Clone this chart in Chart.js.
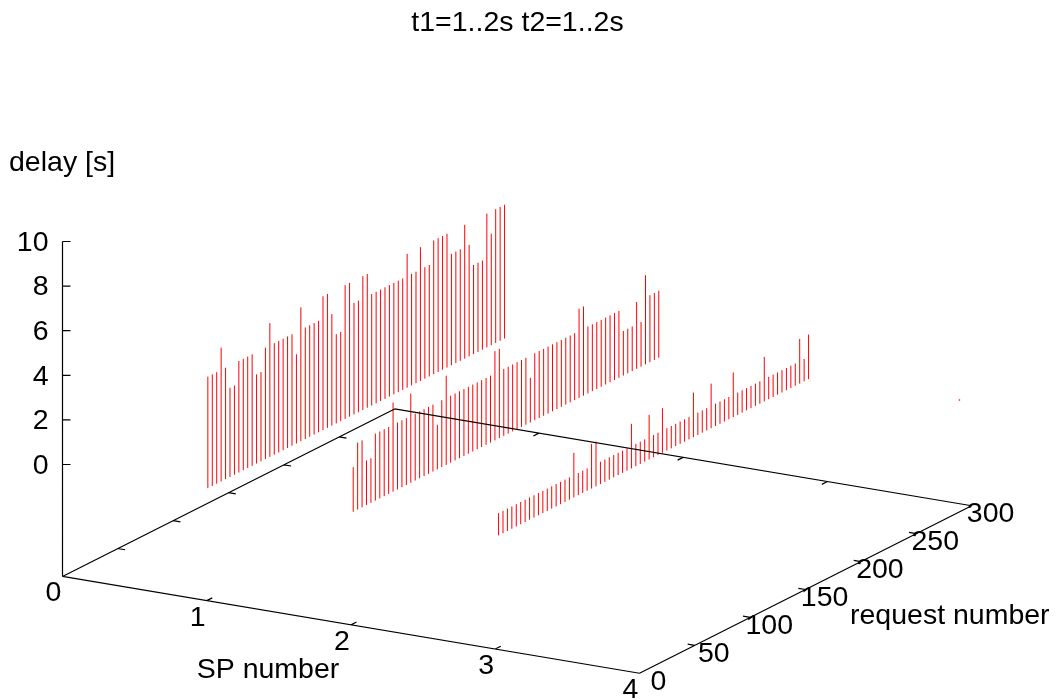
<!DOCTYPE html>
<html>
<head>
<meta charset="utf-8">
<title>t1=1..2s t2=1..2s</title>
<script src="https://cdn.jsdelivr.net/npm/chart.js@4"></script>
<style>
  html, body { margin: 0; padding: 0; background: #fff; }
  canvas { display: block; }
</style>
</head>
<body>
<canvas id="myChart" width="1058" height="700"></canvas>
<script>
// request numbers for each service point
const requests1 = [1,5,9,13,17,21,25,29,33,37,41,45,49,53,57,61,65,69,73,77,81,85,89,93,97,101,105,109,113,117,121,125,129,133,137,141,145,149,153,157,161,165,169,173,177,181,185,189,193,197,201,205,209,213,217,221,225,229,233,237,241,245,249,253,257,261,265,269];
const requests2 = [2,6,10,14,18,22,26,30,34,38,42,46,50,54,58,62,66,70,74,78,82,86,90,94,98,102,106,110,114,118,122,126,130,134,138,142,146,150,154,158,162,166,170,174,178,182,186,190,194,198,202,206,210,214,218,222,226,230,234,238,242,246,250,254,258,262,266,270,274,278];
const requests3 = [3,7,11,15,19,23,27,31,35,39,43,47,51,55,59,63,67,71,75,79,83,87,91,95,99,103,107,111,115,119,123,127,131,135,139,143,147,151,155,159,163,167,171,175,179,183,187,191,195,199,203,207,211,215,219,223,227,231,235,239,243,247,251,255,259,263,267,271,275,279,283];
const requests4 = [289];

// delay in seconds
const delays1 = [5,5,5,6,5,4,4,5,5,5,5,4,4,5,6,5,5,5,5,5,4,6,5,5,5,5,6,6,5,4,4,6,6,5,5,6,6,5,5,5,5,5,5,5,5,6,5,5,6,5,5,6,6,6,6,5,5,5,6,5,4,4,4,6,5,6,6,6];
const delays2 = [2,3,3,2,2,3,3,3,3,4,3,3,3,4,3,3,3,3,3,2,3,4,3,3,3,3,3,3,3,3,3,3,4,4,3,3,3,3,3,3,2,3,3,3,3,3,3,3,3,3,3,4,4,3,3,3,3,3,3,3,3,2,2,2,3,2,4,3,3,3];
const delays3 = [1,1,1,1,1,1,1,1,1,1,1,1,1,1,1,1,1,2,1,1,1,2,2,1,1,1,1,1,1,1,2,1,1,1,2,1,1,2,1,1,1,1,1,1,2,1,1,1,2,1,1,1,1,2,1,1,1,1,1,1,2,1,1,1,1,1,1,1,2,1,2];
const delays4 = [0];

const spNumbers = [1, 2, 3, 4];
const spTicks = [0, 1, 2, 3, 4];
const requestTicks = [0, 50, 100, 150, 200, 250, 300];
const delayTicks = [0, 2, 4, 6, 8, 10];

const SP_MAX = 4;
const REQ_MAX = 300;
const Z_FLOOR = -5.02;

// same view as the gnuplot splot: linear map from data to the picture
function project(sp, req, z) {
  return {
    x: 62.5 + sp * 144.25 + req * 1.1071,
    y: 464.5 + z * -22.3 + sp * 24.2 + req * -0.5583,
  };
}

function impulses(sp, reqs, delays) {
  const pts = [];
  reqs.forEach((r, i) => {
    pts.push(project(sp, r, 0));
    pts.push(project(sp, r, delays[i]));
    pts.push({ x: NaN, y: NaN });
  });
  return pts;
}

function axisLines() {
  const pts = [];
  const seg = (a, b) => { pts.push(a, b, { x: NaN, y: NaN }); };
  seg(project(0, 0, Z_FLOOR), project(SP_MAX, 0, Z_FLOOR));
  seg(project(SP_MAX, 0, Z_FLOOR), project(SP_MAX, REQ_MAX, Z_FLOOR));
  seg(project(SP_MAX, REQ_MAX, Z_FLOOR), project(0, REQ_MAX, Z_FLOOR));
  seg(project(0, REQ_MAX, Z_FLOOR), project(0, 0, Z_FLOOR));
  seg(project(0, 0, Z_FLOOR), project(0, 0, 10));
  delayTicks.forEach((z) => {
    const a = project(0, 0, z);
    seg(a, { x: a.x + 8, y: a.y });
  });
  spTicks.slice(1, -1).forEach((s) => {
    seg(project(s, 0, Z_FLOOR), project(s, 5, Z_FLOOR));
    seg(project(s, REQ_MAX, Z_FLOOR), project(s, REQ_MAX - 5, Z_FLOOR));
  });
  requestTicks.slice(1, -1).forEach((r) => {
    seg(project(0, r, Z_FLOOR), project(0.05, r, Z_FLOOR));
    seg(project(SP_MAX, r, Z_FLOOR), project(SP_MAX - 0.05, r, Z_FLOOR));
  });
  return pts;
}

const textPlugin = {
  id: "gnuplotText",
  afterDraw(chart) {
    const c = chart.ctx;
    const sx = chart.scales.x;
    const sy = chart.scales.y;
    const put = (s, x, y, align) => {
      c.textAlign = align;
      c.fillText(s, sx.getPixelForValue(x), sy.getPixelForValue(y));
    };
    c.save();
    c.fillStyle = "#000";
    c.font = "28.5px 'Liberation Sans'";
    c.textBaseline = "middle";
    put("t1=1..2s t2=1..2s", 517.5, 23.5, "center");
    put("delay [s]", 9, 163, "left");
    put("SP number", 268, 670.5, "center");
    put("request number", 850, 616.5, "left");
    delayTicks.forEach((z) => {
      const p = project(0, 0, z);
      put(String(z), p.x - 14, p.y + 1.5, "right");
    });
    spTicks.forEach((s) => {
      const p = project(s, 0, Z_FLOOR);
      put(String(s), p.x - 9, p.y + 17, "center");
    });
    requestTicks.forEach((r) => {
      const p = project(SP_MAX, r, Z_FLOOR);
      put(String(r), p.x + 19, p.y + 8.5, "center");
    });
    c.restore();
  },
};

const seriesColor = "#ff0000";
const datasets = [
  { data: axisLines(), borderColor: "#000", borderWidth: 1.2 },
  { data: impulses(spNumbers[0], requests1, delays1), borderColor: seriesColor, borderWidth: 1 },
  { data: impulses(spNumbers[1], requests2, delays2), borderColor: seriesColor, borderWidth: 1 },
  { data: impulses(spNumbers[2], requests3, delays3), borderColor: seriesColor, borderWidth: 1 },
];

const ctx = document.getElementById("myChart").getContext("2d");
const myChart = new Chart(ctx, {
  type: "scatter",
  data: {
    datasets: [
      ...datasets.map((d) => ({ ...d, showLine: true, pointRadius: 0, tension: 0, spanGaps: false })),
      // lone zero-height impulse near the far corner
      {
        data: impulses(spNumbers[3], requests4, delays4).slice(0, 1),
        showLine: false,
        borderWidth: 0,
        pointRadius: 0.8,
        pointBorderWidth: 0,
        pointBackgroundColor: seriesColor,
      },
    ],
  },
  options: {
    responsive: false,
    animation: false,
    layout: { padding: 0, autoPadding: false },
    plugins: { legend: { display: false }, tooltip: { enabled: false } },
    scales: {
      x: { type: "linear", min: 0, max: 1058, display: false },
      y: { type: "linear", min: 0, max: 700, reverse: true, display: false },
    },
  },
  plugins: [textPlugin],
});
</script>
</body>
</html>
